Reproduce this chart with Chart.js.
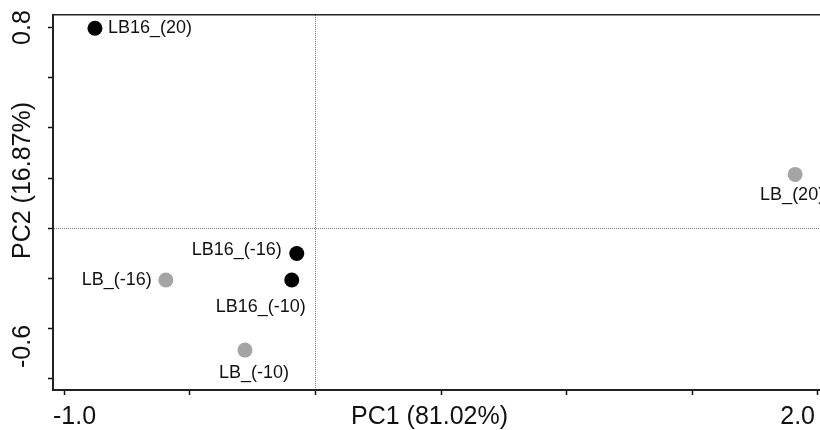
<!DOCTYPE html>
<html>
<head>
<meta charset="utf-8">
<script src="https://cdn.jsdelivr.net/npm/chart.js@4.4.1/dist/chart.umd.min.js"></script>
<style>
html, body { margin: 0; padding: 0; background: #fff; overflow: hidden; }
</style>
</head>
<body>
<canvas id="chart_pca" width="820" height="430"></canvas>
<script>
// PCA scores
var lb16_names = ['LB16_(20)', 'LB16_(-16)', 'LB16_(-10)']
var lb16_pc1 = [-0.877, -0.074, -0.094]
var lb16_pc2 = [0.797, -0.100, -0.206]

var lb_names = ['LB_(20)', 'LB_(-16)', 'LB_(-10)']
var lb_pc1 = [1.909, -0.595, -0.280]
var lb_pc2 = [0.215, -0.206, -0.485]

var x_tick_values = [-1.0, 2.0]
var x_tick_labels = ['-1.0', '2.0']
var y_tick_values = [0.8, -0.6]
var y_tick_labels = ['0.8', '-0.6']

var x_title = 'PC1 (81.02%)'
var y_title = 'PC2 (16.87%)'

var FONT = '"Liberation Sans", Arial, sans-serif'

// where each name goes, relative to its point
var label_place = {
    'LB16_(20)': { align: 'left', dx: 13, dy: 0 },
    'LB16_(-16)': { align: 'right', dx: -15, dy: -3 },
    'LB16_(-10)': { align: 'center', dx: -31, dy: 27 },
    'LB_(20)': { align: 'center', dx: -3, dy: 21 },
    'LB_(-16)': { align: 'right', dx: -14, dy: 0 },
    'LB_(-10)': { align: 'center', dx: 9, dy: 23 }
}

function to_points(xs, ys, names) {
    return xs.map((x, i) => {
        return { x: x, y: ys[i], name: names[i] }
    })
}

var pca_text = {
    id: 'pca_text',
    afterDatasetsDraw: function (chart) {
        var ctx = chart.ctx
        ctx.save()
        ctx.font = '18px ' + FONT
        ctx.fillStyle = '#111'
        ctx.textBaseline = 'middle'
        chart.data.datasets.forEach((ds, di) => {
            chart.getDatasetMeta(di).data.forEach((pt, i) => {
                var name = ds.data[i].name
                var p = label_place[name]
                ctx.textAlign = p.align
                ctx.fillText(name, pt.x + p.dx, pt.y + p.dy)
            })
        })
        ctx.restore()
    },
    afterDraw: function (chart) {
        var ctx = chart.ctx
        var area = chart.chartArea
        var xs = chart.scales.x
        var ys = chart.scales.y
        ctx.save()
        ctx.font = '25px ' + FONT
        ctx.fillStyle = '#111'
        ctx.textBaseline = 'middle'

        // x tick labels, kept inside the plot width
        var row_y = area.bottom + 27
        ctx.textAlign = 'left'
        x_tick_values.forEach((v, i) => {
            var w = ctx.measureText(x_tick_labels[i]).width
            var left = xs.getPixelForValue(v) - w / 2
            left = Math.max(left, area.left)
            left = Math.min(left, area.right - 5 - w)
            ctx.fillText(x_tick_labels[i], left, row_y)
        })
        ctx.textAlign = 'center'
        ctx.fillText(x_title, (area.left + area.right) / 2 - 7, row_y)

        // y side, rotated
        var col_x = area.left - 30
        y_tick_values.forEach((v, i) => {
            var w = ctx.measureText(y_tick_labels[i]).width
            var c = ys.getPixelForValue(v)
            c = Math.max(c, area.top - 5 + w / 2)
            c = Math.min(c, area.bottom - 22 - w / 2)
            ctx.save()
            ctx.translate(col_x, c)
            ctx.rotate(-Math.PI / 2)
            ctx.fillText(y_tick_labels[i], 0, 0)
            ctx.restore()
        })
        ctx.save()
        ctx.translate(col_x, (area.top + area.bottom) / 2 - 22)
        ctx.rotate(-Math.PI / 2)
        ctx.fillText(y_title, 0, 0)
        ctx.restore()
        ctx.restore()
    }
}

function zero_line(ctx) {
    if (ctx.tick && ctx.tick.value === 0) {
        return '#7a7a7a'
    }
    return 'rgba(0,0,0,0)'
}

var x_min = -1.044
var x_max = 2.008
var y_min = -0.644
var y_max = 0.85

var chart_pca = new Chart(document.getElementById('chart_pca'), {
    type: 'scatter',
    data: {
        datasets: [
            {
                label: 'LB16',
                data: to_points(lb16_pc1, lb16_pc2, lb16_names),
                backgroundColor: '#000000',
                borderWidth: 0,
                pointRadius: 7.5
            },
            {
                label: 'LB',
                data: to_points(lb_pc1, lb_pc2, lb_names),
                backgroundColor: '#a4a4a4',
                borderWidth: 0,
                pointRadius: 7.5
            }
        ]
    },
    options: {
        responsive: false,
        animation: false,
        events: [],
        layout: {
            autoPadding: false,
            padding: { left: 48, top: 15, right: 0, bottom: 35 }
        },
        plugins: {
            legend: { display: false },
            tooltip: { enabled: false }
        },
        scales: {
            x: {
                type: 'linear',
                position: 'bottom',
                min: x_min,
                max: x_max,
                ticks: { display: false, stepSize: 0.5, includeBounds: false },
                grid: {
                    color: zero_line,
                    lineWidth: 1,
                    tickLength: 5,
                    tickColor: '#111',
                    tickWidth: 1.5
                },
                border: { color: '#222', width: 2, dash: [1, 1] }
            },
            x_top: {
                type: 'linear',
                position: 'top',
                min: x_min,
                max: x_max,
                ticks: { display: false },
                grid: { display: false, drawTicks: false },
                border: { color: '#222', width: 1.5 }
            },
            y: {
                type: 'linear',
                position: 'left',
                min: y_min,
                max: y_max,
                ticks: { display: false, stepSize: 0.2, includeBounds: false },
                grid: {
                    color: zero_line,
                    lineWidth: 1,
                    tickLength: 5,
                    tickColor: '#111',
                    tickWidth: 1.5
                },
                border: { color: '#222', width: 2, dash: [1, 1] }
            }
        }
    },
    plugins: [pca_text]
})
</script>
</body>
</html>
